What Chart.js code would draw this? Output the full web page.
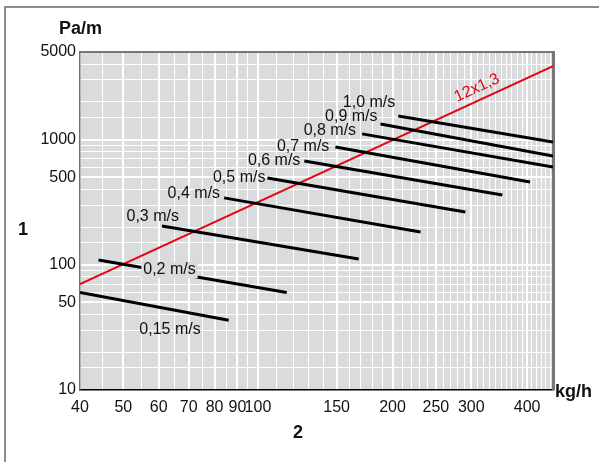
<!DOCTYPE html>
<html>
<head>
<meta charset="utf-8">
<script src="https://cdn.jsdelivr.net/npm/chart.js@4"></script>
<style>
    html, body { margin: 0; padding: 0; background: #fff; }
</style>
</head>
<body>
<canvas id="chart" width="599" height="462"></canvas>
<script>
// flow speed lines: pressure loss (Pa/m) vs mass flow (kg/h)
const speeds    = ['1,0 m/s', '0,9 m/s', '0,8 m/s', '0,7 m/s', '0,6 m/s', '0,5 m/s', '0,4 m/s', '0,3 m/s', '0,2 m/s', '0,15 m/s'];
const startFlow = [206, 188, 171, 149, 127, 105, 84, 61, 44, 40];
const startLoss = [1540, 1330, 1110, 873, 675, 493, 342, 204, 109, 60];
const endFlow   = [457, 457, 457, 406, 352, 291, 231, 168, 116, 86];
const endLoss   = [957, 739, 604, 458, 361, 264, 183, 111, 60, 36];

// pipe line 12x1,3
const pipeName = '12x1,3';
const pipeFlow = [40, 457];
const pipeLoss = [70, 3850];

const xTicks = [40, 45, 50, 55, 60, 65, 70, 75, 80, 85, 90, 95, 100,
    110, 120, 130, 140, 150, 160, 170, 180, 190, 200, 210, 220, 230, 240, 250,
    260, 270, 280, 290, 300, 310, 320, 330, 340, 350, 360, 370, 380, 390, 400,
    410, 420, 430, 440, 450];
const xTickLabels = [40, 50, 60, 70, 80, 90, 100, 150, 200, 250, 300, 400];
const yTicks = [10, 15, 20, 30, 40, 50, 60, 70, 80, 90, 100, 150, 200, 300, 400, 500,
    600, 700, 800, 900, 1000, 1500, 2000, 3000, 4000, 5000];
const yTickLabels = [10, 50, 100, 500, 1000, 5000];

// label placement relative to the start of each speed line (px)
const labelDx    = [-3, -3, -6, -6, -4, -2, -4, 17, 71, 90];
const labelDy    = [-13, -7, -3, 0, 0, 0, -4, -9, 10, 37];
const labelAlign = ['right', 'right', 'right', 'right', 'right', 'right', 'right', 'right', 'center', 'center'];

const FONT = '"Liberation Sans", Arial, sans-serif';
const PLOT_BG = '#d9dbdc';

const datasets = speeds.map((s, i) => ({
    label: s,
    data: [{ x: startFlow[i], y: startLoss[i] }, { x: endFlow[i], y: endLoss[i] }],
    borderColor: '#000',
    borderWidth: 3,
    pointRadius: 0,
}));
datasets.push({
    label: pipeName,
    data: [{ x: pipeFlow[0], y: pipeLoss[0] }, { x: pipeFlow[1], y: pipeLoss[1] }],
    borderColor: '#e30613',
    borderWidth: 2,
    pointRadius: 0,
});

const framePlugin = {
    id: 'frame',
    beforeDraw(chart) {
        const { ctx, chartArea: a } = chart;
        ctx.save();
        ctx.strokeStyle = '#8c8c8c';
        ctx.lineWidth = 2;
        ctx.beginPath();
        ctx.moveTo(5, 462);
        ctx.lineTo(5, 7);
        ctx.lineTo(599, 7);
        ctx.stroke();
        ctx.fillStyle = PLOT_BG;
        ctx.fillRect(a.left, a.top, a.right - a.left, a.bottom - a.top);
        ctx.restore();
    },
    beforeDatasetsDraw(chart) {
        const { ctx, chartArea: a } = chart;
        ctx.save();
        ctx.strokeStyle = '#767676';
        ctx.lineWidth = 2;
        ctx.beginPath();
        ctx.moveTo(a.left, a.top);
        ctx.lineTo(a.right, a.top);
        ctx.stroke();
        ctx.lineWidth = 3;
        ctx.beginPath();
        ctx.moveTo(a.right + 0.5, a.top - 1);
        ctx.lineTo(a.right + 0.5, a.bottom);
        ctx.stroke();
        ctx.restore();
    }
};

const labelPlugin = {
    id: 'labels',
    afterDatasetsDraw(chart) {
        const { ctx, scales: { x, y } } = chart;
        ctx.save();
        ctx.font = '16px ' + FONT;
        ctx.textBaseline = 'middle';
        speeds.forEach((s, i) => {
            const px = x.getPixelForValue(startFlow[i]) + labelDx[i];
            const py = y.getPixelForValue(startLoss[i]) + labelDy[i];
            ctx.textAlign = labelAlign[i];
            if (i === 8) {
                // the label sits on top of its line
                const w = ctx.measureText(s).width;
                ctx.fillStyle = PLOT_BG;
                ctx.fillRect(px - w / 2 - 2, py - 8, w + 4, 16);
            }
            ctx.fillStyle = '#111';
            ctx.fillText(s, px, py);
        });

        // rotated pipe label along the red line
        const x0 = x.getPixelForValue(pipeFlow[0]), y0 = y.getPixelForValue(pipeLoss[0]);
        const x1 = x.getPixelForValue(pipeFlow[1]), y1 = y.getPixelForValue(pipeLoss[1]);
        const ang = Math.atan2(y1 - y0, x1 - x0);
        const t = 0.85;
        ctx.translate(x0 + (x1 - x0) * t, y0 + (y1 - y0) * t);
        ctx.rotate(ang);
        ctx.textAlign = 'center';
        ctx.textBaseline = 'bottom';
        ctx.fillStyle = '#e30613';
        ctx.font = '16px ' + FONT;
        ctx.fillText(pipeName, 0, -4);
        ctx.restore();
    },
    afterDraw(chart) {
        const { ctx } = chart;
        ctx.save();
        ctx.fillStyle = '#111';
        ctx.font = 'bold 18px ' + FONT;
        ctx.textBaseline = 'alphabetic';
        ctx.textAlign = 'left';
        ctx.fillText('Pa/m', 59, 34);
        ctx.fillText('kg/h', 555, 397);
        ctx.textAlign = 'center';
        ctx.textBaseline = 'middle';
        ctx.fillText('1', 23, 230);
        ctx.fillText('2', 298, 433);
        ctx.restore();
    }
};

const gridWidth = (labels) => (c) => (c.tick && labels.includes(c.tick.value)) ? 2 : 1;

new Chart(document.getElementById('chart'), {
    type: 'line',
    data: { datasets },
    options: {
        responsive: false,
        animation: false,
        events: [],
        layout: { padding: { left: 0, top: 52, right: 46, bottom: 0 } },
        plugins: { legend: { display: false }, tooltip: { enabled: false } },
        scales: {
            x: {
                type: 'logarithmic',
                min: 40,
                max: 457,
                afterBuildTicks: (s) => { s.ticks = xTicks.map(v => ({ value: v })); },
                afterFit: (s) => { s.height = 72; },
                grid: { color: '#fff', lineWidth: gridWidth(xTickLabels), drawTicks: false },
                border: { color: '#000', width: 1.5 },
                ticks: {
                    autoSkip: false, maxRotation: 0, minRotation: 0, padding: 8,
                    color: '#111', font: { family: FONT, size: 16 },
                    callback: (v) => xTickLabels.includes(v) ? String(v) : '',
                },
            },
            y: {
                type: 'logarithmic',
                min: 10,
                max: 5000,
                afterBuildTicks: (s) => { s.ticks = yTicks.map(v => ({ value: v })); },
                afterFit: (s) => { s.width = 80; },
                grid: { color: '#fff', lineWidth: gridWidth(yTickLabels), drawTicks: false },
                border: { color: '#6f6f6f', width: 1.5 },
                ticks: {
                    autoSkip: false, padding: 4,
                    color: '#111', font: { family: FONT, size: 16 },
                    callback: (v) => yTickLabels.includes(v) ? String(v) : '',
                },
            },
        },
    },
    plugins: [framePlugin, labelPlugin],
});
</script>
</body>
</html>
